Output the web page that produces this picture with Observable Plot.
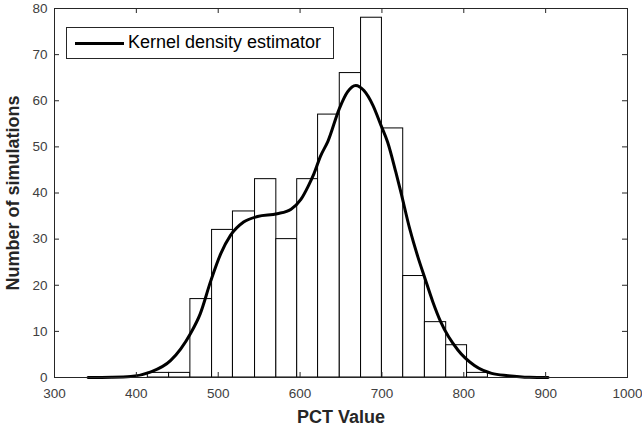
<!DOCTYPE html>
<html>
<head>
<meta charset="utf-8">
<script src="https://cdn.jsdelivr.net/npm/d3@7"></script>
<script src="https://cdn.jsdelivr.net/npm/@observablehq/plot@0.6"></script>
<style>
  body { margin: 0; background: white; }
  #wrap { position: relative; width: 642px; height: 429px; font-family: "Liberation Sans", Arial, Helvetica, sans-serif; }
  #legend { position: absolute; left: 66px; top: 27px; width: 266px; height: 30px; border: 1px solid #262626; background: white; }
  #legend svg { position: absolute; left: 0; top: 0; }
  #legend span { position: absolute; left: 61px; top: 4px; font-size: 18px; color: #000; white-space: nowrap; }
</style>
</head>
<body>
<div id="wrap"></div>
<script>
// Histogram bin edges (PCT value) and counts
const binEdges = [414, 440, 466, 492.5, 518, 545, 571, 596.5, 622, 648.5, 674.5, 700, 726, 752.5, 778.5, 804, 829.5];
const binCounts = [1, 1, 17, 32, 36, 43, 30, 43, 57, 66, 78, 54, 22, 12, 7, 1];

// Kernel density estimator curve (scaled to counts)
const kdeX = [341, 370, 393, 417, 442, 466, 478, 491, 503, 515, 531, 548, 572, 589, 601, 610, 617, 625, 634, 648, 658, 668, 678, 689, 699, 707, 717, 723, 734, 744, 752, 762, 772, 793, 813, 834, 854, 880, 903];
const kdeY = [0, 0.05, 0.2, 1.15, 3.7, 9.5, 13.8, 21, 26.8, 30.8, 33.7, 34.9, 35.5, 36.5, 38.6, 41.5, 44.2, 48, 51.2, 58.3, 61.9, 63.3, 62.2, 59, 54.6, 51, 44.5, 40.3, 32.2, 26.1, 21.8, 16.5, 12, 5.9, 2.6, 0.9, 0.4, 0.05, 0];

const xTicks = [300, 400, 500, 600, 700, 800, 900, 1000];
const yTicks = [0, 10, 20, 30, 40, 50, 60, 70, 80];

const xLabel = "PCT Value";
const yLabel = "Number of simulations";
const legendLabel = "Kernel density estimator";

const bins = binCounts.map((c, i) => ({x1: binEdges[i], x2: binEdges[i + 1], y: c}));
const kde = kdeX.map((x, i) => ({x, y: kdeY[i]}));

const axisColor = "#262626";
const tickText = "#404040";
const W = 642, H = 429, mL = 54, mR = 15, mT = 8, mB = 52;
const tickLen = 5;
const frameW = W - mL - mR, frameH = H - mT - mB;

const chart = Plot.plot({
  width: W,
  height: H,
  marginLeft: mL,
  marginRight: mR,
  marginTop: mT,
  marginBottom: mB,
  style: {fontFamily: '"Liberation Sans", Arial, Helvetica, sans-serif', background: "white"},
  x: {domain: [300, 1000]},
  y: {domain: [0, 80]},
  marks: [
    Plot.rectY(bins, {x1: "x1", x2: "x2", y: "y", fill: "white", stroke: "black", strokeWidth: 1}),
    Plot.line(kde, {x: "x", y: "y", stroke: "black", strokeWidth: 3, curve: "monotone-x"}),
    // inward ticks on all four sides
    Plot.tickX(xTicks, {x: d => d, stroke: axisColor, insetTop: frameH - tickLen}),
    Plot.tickX(xTicks, {x: d => d, stroke: axisColor, insetBottom: frameH - tickLen}),
    Plot.tickY(yTicks, {y: d => d, stroke: axisColor, insetRight: frameW - tickLen}),
    Plot.tickY(yTicks, {y: d => d, stroke: axisColor, insetLeft: frameW - tickLen}),
    Plot.frame({stroke: axisColor, strokeWidth: 1}),
    Plot.axisX(xTicks, {anchor: "bottom", tickSize: 0, tickPadding: 11, tickFormat: d => String(d), fontSize: 13.5, color: tickText, label: null}),
    Plot.axisY(yTicks, {anchor: "left", tickSize: 0, tickPadding: 7, tickFormat: d => String(d), fontSize: 13.5, color: tickText, label: null}),
    Plot.text([xLabel], {frameAnchor: "bottom", dy: 40, text: d => d, fontSize: 18, fontWeight: "bold", fill: axisColor, lineAnchor: "middle", textAnchor: "middle"}),
    Plot.text([yLabel], {frameAnchor: "left", dx: -41, rotate: -90, text: d => d, fontSize: 18, fontWeight: "bold", fill: axisColor, lineAnchor: "middle", textAnchor: "middle"})
  ]
});

const wrap = document.getElementById("wrap");
wrap.appendChild(chart);

const legend = document.createElement("div");
legend.id = "legend";
legend.innerHTML = `<svg width="60" height="30"><line x1="8" x2="57" y1="15.5" y2="15.5" stroke="black" stroke-width="3"/></svg><span></span>`;
legend.querySelector("span").textContent = legendLabel;
wrap.appendChild(legend);
</script>
</body>
</html>
